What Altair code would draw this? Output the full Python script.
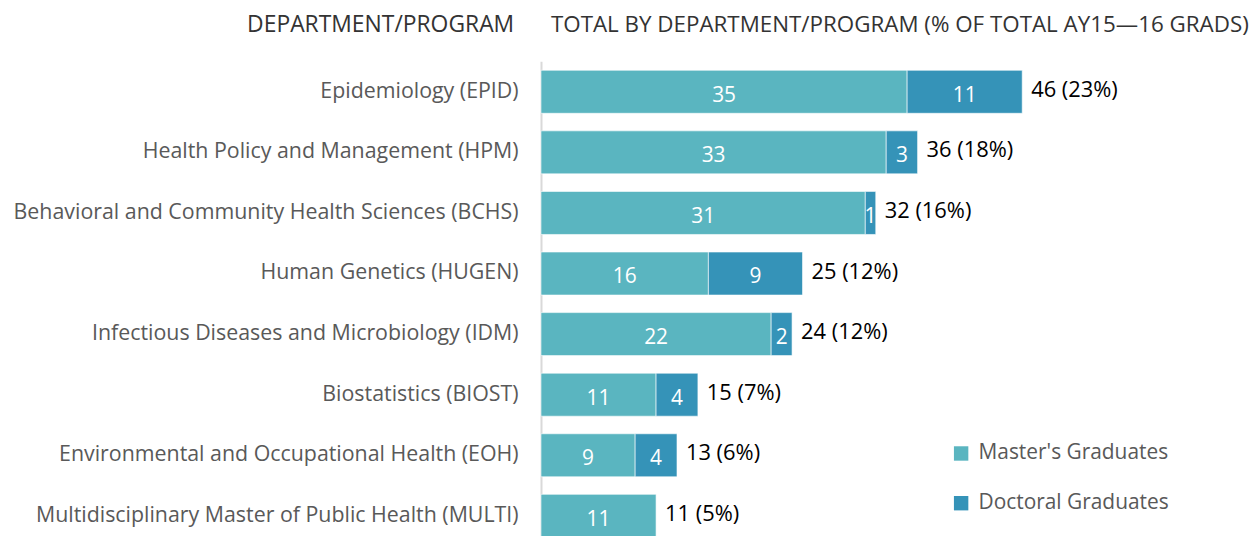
import altair as alt
import pandas as pd

departments = [
    "Epidemiology (EPID)",
    "Health Policy and Management (HPM)",
    "Behavioral and Community Health Sciences (BCHS)",
    "Human Genetics (HUGEN)",
    "Infectious Diseases and Microbiology (IDM)",
    "Biostatistics (BIOST)",
    "Environmental and Occupational Health (EOH)",
    "Multidisciplinary Master of Public Health (MULTI)",
]
masters = [35, 33, 31, 16, 22, 11, 9, 11]
doctoral = [11, 3, 1, 9, 2, 4, 4, 0]
percents = [23, 18, 16, 12, 12, 7, 6, 5]
series = ["Master's Graduates", "Doctoral Graduates"]
colors = ["#5ab5c0", "#3593b8"]
header_left = ["DEPARTMENT/PROGRAM"]
header_right = ["TOTAL BY DEPARTMENT/PROGRAM (% OF TOTAL AY15\u201416 GRADS)"]

rows = []
for d, m, dc in zip(departments, masters, doctoral):
    if m > 0:
        rows.append(dict(dept=d, series=series[0], start=0, end=m, value=m, mid=m / 2))
    if dc > 0:
        rows.append(dict(dept=d, series=series[1], start=m, end=m + dc, value=dc, mid=m + dc / 2))
seg = pd.DataFrame(rows)

totals = [m + d for m, d in zip(masters, doctoral)]
tot = pd.DataFrame({
    "dept": departments,
    "total": totals,
    "label": [f"{t} ({p}%)" for t, p in zip(totals, percents)],
})

FONT = "Open Sans"
GRAY = "#595959"

yscale = alt.Scale(domain=departments, range=[0, 488], paddingInner=0.29, paddingOuter=0.15)
xscale = alt.Scale(domain=[0, 714 / 10.52], nice=False, zero=True)

y_axis = alt.Y(
    "dept:N", sort=departments, scale=yscale,
    axis=alt.Axis(title=None, ticks=False, labelPadding=23, labelFont=FONT,
                  labelFontSize=21.5, labelColor=GRAY, domainColor="#d9d9d9",
                  domainWidth=2, labelLimit=700),
)

bars = alt.Chart(seg).mark_bar(stroke="white", strokeWidth=0.6).encode(
    y=y_axis,
    x=alt.X("start:Q", scale=xscale, axis=None),
    x2="end:Q",
    color=alt.Color(
        "series:N",
        scale=alt.Scale(domain=series, range=colors),
        legend=alt.Legend(
            title=None, orient="none", legendX=412, legendY=384,
            symbolType="square", symbolSize=210, symbolStrokeWidth=0,
            labelFont=FONT, labelFontSize=21, labelColor=GRAY, labelLimit=400,
            rowPadding=28, labelOffset=7,
        ),
    ),
)

inner = alt.Chart(seg).mark_text(color="white", font=FONT, fontSize=21, dy=4).encode(
    y=y_axis,
    x=alt.X("mid:Q", scale=xscale, axis=None),
    text="value:Q",
)

outer = alt.Chart(tot).mark_text(color="black", font=FONT, fontSize=22, align="left", dx=9, dy=-2).encode(
    y=y_axis,
    x=alt.X("total:Q", scale=xscale, axis=None),
    text="label:N",
)

h1 = alt.Chart(pd.DataFrame({"t": header_left})).mark_text(
    align="right", baseline="middle", font=FONT, fontSize=23, color="#333333"
).encode(x=alt.value(-27), y=alt.value(-36), text="t:N")

h2 = alt.Chart(pd.DataFrame({"t": header_right})).mark_text(
    align="left", baseline="middle", font=FONT, fontSize=22.5, color="#333333"
).encode(x=alt.value(10), y=alt.value(-36), text="t:N")

chart = alt.layer(bars, inner, outer, h1, h2).properties(
    width=714, height=476,
    autosize=alt.AutoSizeParams(type="none"),
    padding={"left": 536, "top": 52, "right": 0, "bottom": 0},
).configure_view(stroke=None)

chart.save("out.html", embed_options={"renderer": "svg", "actions": False})
